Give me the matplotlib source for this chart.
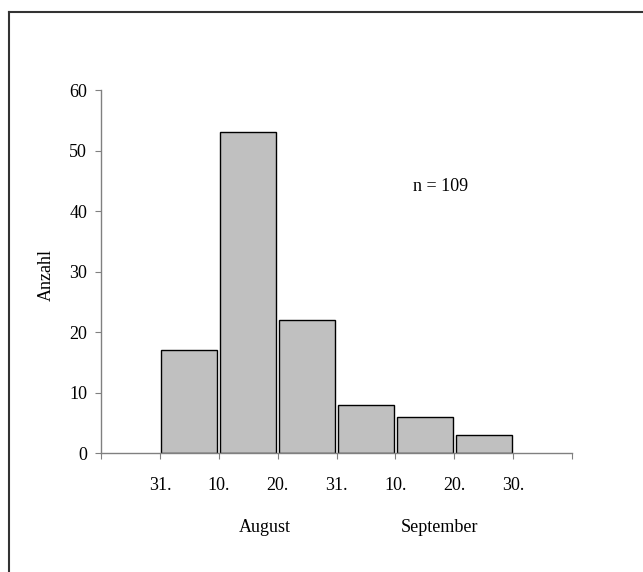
import numpy as np
import matplotlib.pyplot as plt

# counts per 10-day period (Aug 1-10 ... Sep 21-30)
counts = [17, 53, 22, 8, 6, 3]
bar_pos = [1, 2, 3, 4, 5, 6]
tick_labels = ['31.', '10.', '20.', '31.', '10.', '20.', '30.']
n_total = 109

plt.rcParams['font.family'] = ['Liberation Serif', 'DejaVu Serif']
plt.rcParams['font.size'] = 13

fig = plt.figure(figsize=(6.43, 5.72), dpi=100)
ax = fig.add_axes([101 / 643, 1 - 453 / 572, 471 / 643, 363 / 572])

ax.bar(bar_pos, counts, width=0.95, color='#c0c0c0', edgecolor='black', linewidth=1.0)

ax.set_xlim(-0.5, 7.5)
ax.set_ylim(0, 60)
ax.set_yticks(np.arange(0, 61, 10))

ax.set_xticks(np.arange(-0.5, 8, 1))
ax.set_xticklabels([''] + tick_labels + [''])

for s in ['top', 'right']:
    ax.spines[s].set_visible(False)
for s in ['left', 'bottom']:
    ax.spines[s].set_color('#808080')
    ax.spines[s].set_linewidth(1.0)

ax.tick_params(axis='x', direction='out', length=4, color='#808080', pad=13)
ax.tick_params(axis='y', direction='out', length=4, color='#808080', pad=6)

fig.text(46 / 643, 1 - 275 / 572, 'Anzahl', rotation=90, ha='center', va='center')
fig.text(441 / 643, 1 - 187 / 572, 'n = %d' % n_total, ha='center', va='center')

fig.text(265 / 643, 1 - 532 / 572, 'August', ha='center', va='baseline')
fig.text(440 / 643, 1 - 532 / 572, 'September', ha='center', va='baseline')

# frame lines at top and left
fig.add_artist(plt.Line2D([9 / 643, 1], [1 - 12 / 572, 1 - 12 / 572], color='#333333', lw=1.5, transform=fig.transFigure))
fig.add_artist(plt.Line2D([9 / 643, 9 / 643], [0, 1 - 12 / 572], color='#333333', lw=1.5, transform=fig.transFigure))

fig.savefig('out.png', dpi=100)
